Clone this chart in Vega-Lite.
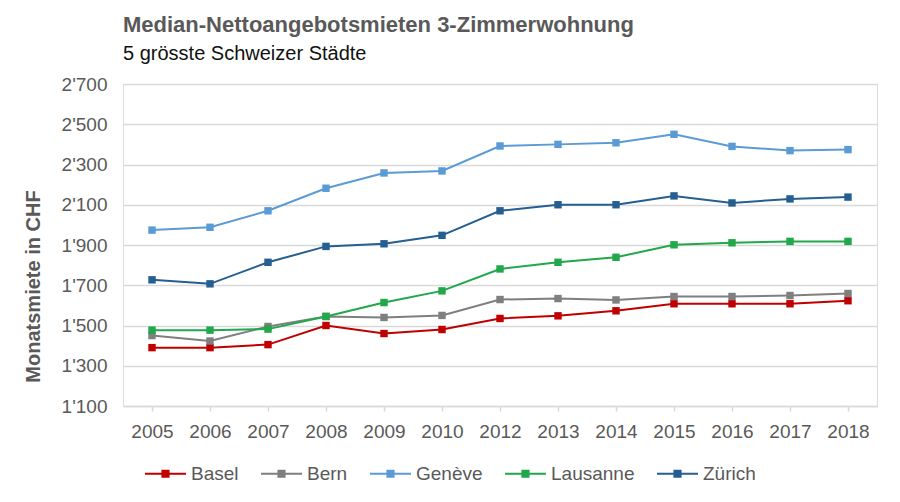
{
  "$schema": "https://vega.github.io/schema/vega-lite/v6.json",
  "autosize": "none",
  "width": 754,
  "height": 322,
  "padding": {"left": 123, "top": 84, "right": 23, "bottom": 96},
  "background": "white",
  "title": {
    "text": "Median-Nettoangebotsmieten 3-Zimmerwohnung",
    "subtitle": "5 grösste Schweizer Städte",
    "anchor": "start",
    "frame": "group",
    "font": "Liberation Sans",
    "fontSize": 22,
    "fontWeight": "bold",
    "color": "#595959",
    "subtitleFont": "Liberation Sans",
    "subtitleFontSize": 20,
    "subtitleColor": "#111111",
    "subtitlePadding": 7,
    "offset": 10
  },
  "data": {
    "values": [
      {"year": "2005", "city": "Basel", "rent": 1390},
      {"year": "2006", "city": "Basel", "rent": 1390},
      {"year": "2007", "city": "Basel", "rent": 1405},
      {"year": "2008", "city": "Basel", "rent": 1500},
      {"year": "2009", "city": "Basel", "rent": 1460},
      {"year": "2010", "city": "Basel", "rent": 1480},
      {"year": "2012", "city": "Basel", "rent": 1535},
      {"year": "2013", "city": "Basel", "rent": 1548},
      {"year": "2014", "city": "Basel", "rent": 1573},
      {"year": "2015", "city": "Basel", "rent": 1608},
      {"year": "2016", "city": "Basel", "rent": 1608},
      {"year": "2017", "city": "Basel", "rent": 1608},
      {"year": "2018", "city": "Basel", "rent": 1623},
      {"year": "2005", "city": "Bern", "rent": 1450},
      {"year": "2006", "city": "Bern", "rent": 1423},
      {"year": "2007", "city": "Bern", "rent": 1495},
      {"year": "2008", "city": "Bern", "rent": 1545},
      {"year": "2009", "city": "Bern", "rent": 1540},
      {"year": "2010", "city": "Bern", "rent": 1550},
      {"year": "2012", "city": "Bern", "rent": 1629},
      {"year": "2013", "city": "Bern", "rent": 1634},
      {"year": "2014", "city": "Bern", "rent": 1627},
      {"year": "2015", "city": "Bern", "rent": 1644},
      {"year": "2016", "city": "Bern", "rent": 1644},
      {"year": "2017", "city": "Bern", "rent": 1649},
      {"year": "2018", "city": "Bern", "rent": 1659},
      {"year": "2005", "city": "Genève", "rent": 1974},
      {"year": "2006", "city": "Genève", "rent": 1988},
      {"year": "2007", "city": "Genève", "rent": 2070},
      {"year": "2008", "city": "Genève", "rent": 2182},
      {"year": "2009", "city": "Genève", "rent": 2258},
      {"year": "2010", "city": "Genève", "rent": 2268},
      {"year": "2012", "city": "Genève", "rent": 2392},
      {"year": "2013", "city": "Genève", "rent": 2400},
      {"year": "2014", "city": "Genève", "rent": 2408},
      {"year": "2015", "city": "Genève", "rent": 2450},
      {"year": "2016", "city": "Genève", "rent": 2390},
      {"year": "2017", "city": "Genève", "rent": 2369},
      {"year": "2018", "city": "Genève", "rent": 2374},
      {"year": "2005", "city": "Lausanne", "rent": 1477},
      {"year": "2006", "city": "Lausanne", "rent": 1477},
      {"year": "2007", "city": "Lausanne", "rent": 1482},
      {"year": "2008", "city": "Lausanne", "rent": 1545},
      {"year": "2009", "city": "Lausanne", "rent": 1614},
      {"year": "2010", "city": "Lausanne", "rent": 1672},
      {"year": "2012", "city": "Lausanne", "rent": 1781},
      {"year": "2013", "city": "Lausanne", "rent": 1814},
      {"year": "2014", "city": "Lausanne", "rent": 1839},
      {"year": "2015", "city": "Lausanne", "rent": 1901},
      {"year": "2016", "city": "Lausanne", "rent": 1911},
      {"year": "2017", "city": "Lausanne", "rent": 1918},
      {"year": "2018", "city": "Lausanne", "rent": 1918},
      {"year": "2005", "city": "Zürich", "rent": 1727},
      {"year": "2006", "city": "Zürich", "rent": 1707},
      {"year": "2007", "city": "Zürich", "rent": 1814},
      {"year": "2008", "city": "Zürich", "rent": 1893},
      {"year": "2009", "city": "Zürich", "rent": 1906},
      {"year": "2010", "city": "Zürich", "rent": 1948},
      {"year": "2012", "city": "Zürich", "rent": 2070},
      {"year": "2013", "city": "Zürich", "rent": 2100},
      {"year": "2014", "city": "Zürich", "rent": 2100},
      {"year": "2015", "city": "Zürich", "rent": 2144},
      {"year": "2016", "city": "Zürich", "rent": 2109},
      {"year": "2017", "city": "Zürich", "rent": 2129},
      {"year": "2018", "city": "Zürich", "rent": 2138}
    ]
  },
  "mark": {
    "type": "line",
    "strokeWidth": 2,
    "point": {"shape": "square", "size": 55, "filled": true, "opacity": 1}
  },
  "encoding": {
    "x": {
      "field": "year",
      "type": "ordinal",
      "scale": {"padding": 0.5},
      "axis": {
        "title": null,
        "labelAngle": 0,
        "labelFont": "Liberation Sans",
        "labelFontSize": 19,
        "labelColor": "#595959",
        "labelPadding": 11,
        "domainColor": "#D9D9D9",
        "domainWidth": 1.5,
        "tickColor": "#D9D9D9",
        "tickWidth": 1.5,
        "tickSize": 5,
        "grid": false
      }
    },
    "y": {
      "field": "rent",
      "type": "quantitative",
      "scale": {"domain": [1100, 2700], "nice": false, "zero": false},
      "axis": {
        "values": [1100, 1300, 1500, 1700, 1900, 2100, 2300, 2500, 2700],
        "labelExpr": "replace(format(datum.value, ','), ',', \"'\")",
        "labelFont": "Liberation Sans",
        "labelFontSize": 19,
        "labelColor": "#595959",
        "labelPadding": 16,
        "domain": false,
        "ticks": false,
        "grid": true,
        "gridColor": "#D9D9D9",
        "gridWidth": 1.5,
        "title": "Monatsmiete in CHF",
        "titleFont": "Liberation Sans",
        "titleFontSize": 20,
        "titleFontWeight": "bold",
        "titleColor": "#595959",
        "titleAngle": -90,
        "titleAlign": "center",
        "titleBaseline": "middle",
        "titleX": -90,
        "titleY": 202
      }
    },
    "color": {
      "field": "city",
      "type": "nominal",
      "scale": {
        "domain": ["Basel", "Bern", "Genève", "Lausanne", "Zürich"],
        "range": ["#C00000", "#7F7F7F", "#5B9BD5", "#21A84A", "#255E91"]
      },
      "legend": {
        "title": null,
        "orient": "none",
        "direction": "horizontal",
        "legendX": 21,
        "legendY": 368,
        "padding": 0,
        "columnPadding": 18,
        "labelOffset": 4,
        "labelFont": "Liberation Sans",
        "labelFontSize": 19,
        "labelColor": "#595959",
        "symbolType": "M-1,0L1,0M-0.15,-0.15L0.15,-0.15L0.15,0.15L-0.15,0.15Z",
        "symbolSize": 1681,
        "symbolStrokeWidth": 2,
        "encode": {
          "symbols": {
            "update": {
              "fill": {"scale": "color", "field": "value"},
              "stroke": {"scale": "color", "field": "value"},
              "strokeWidth": {"value": 2}
            }
          }
        }
      }
    }
  }
}
